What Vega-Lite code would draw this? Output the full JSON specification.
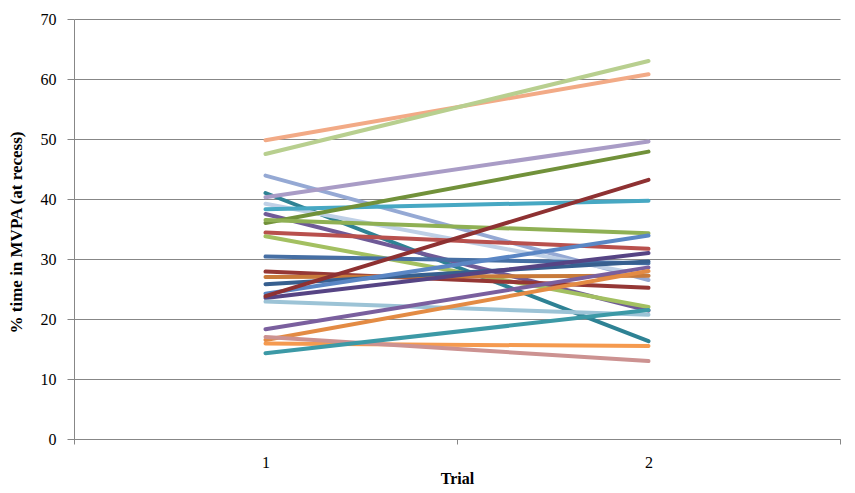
{
  "$schema": "https://vega.github.io/schema/vega-lite/v6.json",
  "width": 766,
  "height": 420,
  "autosize": {"type": "none"},
  "padding": {"left": 74, "top": 19, "right": 15, "bottom": 54},
  "background": "white",
  "config": {"view": {"stroke": null}},
  "data": {"values": [
    {"p": "P01", "trial": "1", "v": 49.8}, {"p": "P01", "trial": "2", "v": 60.8},
    {"p": "P02", "trial": "1", "v": 47.5}, {"p": "P02", "trial": "2", "v": 63.0},
    {"p": "P03", "trial": "1", "v": 43.9}, {"p": "P03", "trial": "2", "v": 26.5},
    {"p": "P04", "trial": "1", "v": 41.0}, {"p": "P04", "trial": "2", "v": 16.3},
    {"p": "P05", "trial": "1", "v": 40.3}, {"p": "P05", "trial": "2", "v": 49.6},
    {"p": "P06", "trial": "1", "v": 39.2}, {"p": "P06", "trial": "2", "v": 27.2},
    {"p": "P07", "trial": "1", "v": 38.3}, {"p": "P07", "trial": "2", "v": 39.7},
    {"p": "P08", "trial": "1", "v": 37.5}, {"p": "P08", "trial": "2", "v": 21.4},
    {"p": "P09", "trial": "1", "v": 36.0}, {"p": "P09", "trial": "2", "v": 47.9},
    {"p": "P10", "trial": "1", "v": 36.5}, {"p": "P10", "trial": "2", "v": 34.3},
    {"p": "P11", "trial": "1", "v": 34.4}, {"p": "P11", "trial": "2", "v": 31.7},
    {"p": "P12", "trial": "1", "v": 33.8}, {"p": "P12", "trial": "2", "v": 22.0},
    {"p": "P13", "trial": "1", "v": 30.4}, {"p": "P13", "trial": "2", "v": 29.3},
    {"p": "P14", "trial": "1", "v": 27.9}, {"p": "P14", "trial": "2", "v": 25.2},
    {"p": "P15", "trial": "1", "v": 27.0}, {"p": "P15", "trial": "2", "v": 27.2},
    {"p": "P16", "trial": "1", "v": 25.8}, {"p": "P16", "trial": "2", "v": 29.6},
    {"p": "P17", "trial": "1", "v": 24.2}, {"p": "P17", "trial": "2", "v": 33.9},
    {"p": "P18", "trial": "1", "v": 23.5}, {"p": "P18", "trial": "2", "v": 31.0},
    {"p": "P19", "trial": "1", "v": 22.9}, {"p": "P19", "trial": "2", "v": 20.7},
    {"p": "P20", "trial": "1", "v": 18.3}, {"p": "P20", "trial": "2", "v": 28.6},
    {"p": "P21", "trial": "1", "v": 23.8}, {"p": "P21", "trial": "2", "v": 43.2},
    {"p": "P22", "trial": "1", "v": 16.5}, {"p": "P22", "trial": "2", "v": 28.0},
    {"p": "P23", "trial": "1", "v": 15.9}, {"p": "P23", "trial": "2", "v": 15.5},
    {"p": "P24", "trial": "1", "v": 17.0}, {"p": "P24", "trial": "2", "v": 13.0},
    {"p": "P25", "trial": "1", "v": 14.3}, {"p": "P25", "trial": "2", "v": 21.5}
  ]},
  "mark": {"type": "line", "strokeWidth": 4, "strokeCap": "round"},
  "encoding": {
    "x": {
      "field": "trial", "type": "ordinal",
      "scale": {"type": "band", "paddingInner": 0, "paddingOuter": 0},
      "axis": {
        "title": "Trial", "labelAngle": 0, "tickBand": "extent",
        "labelFont": "Liberation Serif", "labelFontSize": 16, "labelColor": "#000000",
        "labelPadding": 10, "tickSize": 5, "tickColor": "#878787", "domainColor": "#878787",
        "titleFont": "Liberation Serif", "titleFontSize": 16, "titleFontWeight": "bold", "titleColor": "#000000",
        "titlePadding": 0, "grid": false
      }
    },
    "y": {
      "field": "v", "type": "quantitative",
      "scale": {"domain": [0, 70]},
      "axis": {
        "title": "% time in MVPA (at recess)", "values": [0, 10, 20, 30, 40, 50, 60, 70],
        "labelFont": "Liberation Serif", "labelFontSize": 16, "labelColor": "#000000",
        "labelPadding": 11, "tickSize": 7, "tickColor": "#878787", "domainColor": "#878787",
        "grid": true, "gridColor": "#878787", "gridWidth": 1,
        "titleFont": "Liberation Serif", "titleFontSize": 17, "titleFontWeight": "bold", "titleColor": "#000000",
        "titleX": -53, "titleY": 213, "titleBaseline": "alphabetic", "titleAngle": -90
      }
    },
    "color": {
      "field": "p", "type": "nominal", "legend": null,
      "scale": {
        "domain": ["P01","P02","P03","P04","P05","P06","P07","P08","P09","P10","P11","P12","P13","P14","P15","P16","P17","P18","P19","P20","P21","P22","P23","P24","P25"],
        "range": ["#F2AA86","#B8CF8F","#95A9D4","#2E8294","#A99CC6","#BFD0E6","#47A8C3","#6F5A97","#71913A","#8FB054","#B8504D","#A3C061","#466FA4","#953735","#C87A3A","#375F8F","#5A86C4","#564484","#9CC3D6","#7A5F9E","#8E3132","#E38B44","#F59A4F","#CC9291","#3C99A6"]
      }
    },
    "detail": {"field": "p"}
  }
}
